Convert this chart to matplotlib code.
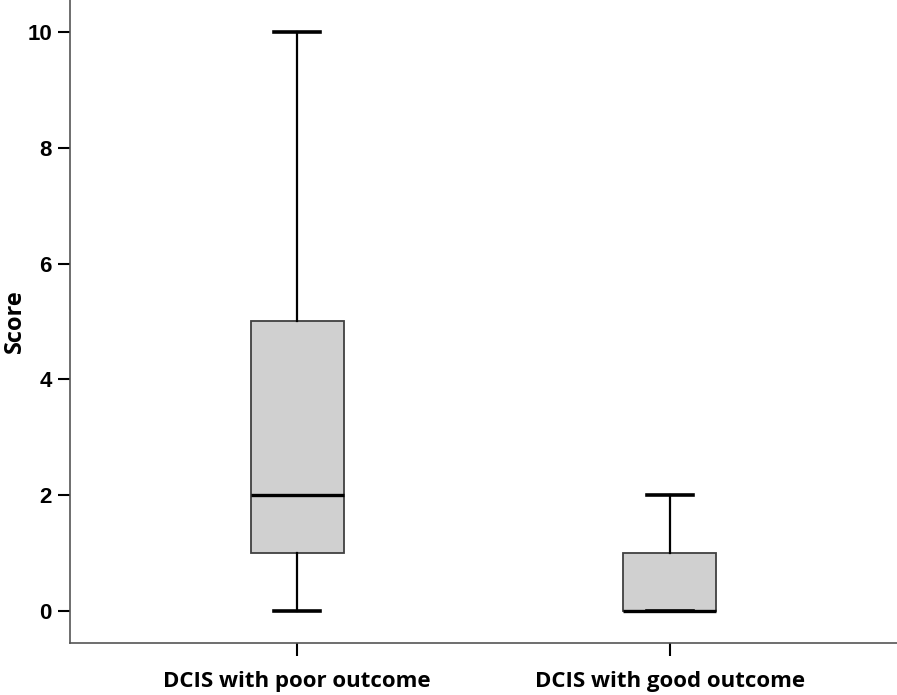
import matplotlib
matplotlib.use("Agg")
import matplotlib.pyplot as plt

# box statistics
groups = ["DCIS with poor outcome", "DCIS with good outcome"]
whisker_low = [0, 0]
q1 = [1, 0]
median = [2, 0]
q3 = [5, 1]
whisker_high = [10, 2]
yticks = [0, 2, 4, 6, 8, 10]

stats = []
for i in range(len(groups)):
    stats.append({"label": groups[i], "whislo": whisker_low[i], "q1": q1[i],
                  "med": median[i], "q3": q3[i], "whishi": whisker_high[i]})

fig = plt.figure(figsize=(8.97, 6.95), dpi=100)
ax = fig.add_axes([0.078, 0.075, 0.922, 0.925])

ax.bxp(stats, positions=[1, 2], widths=0.25, capwidths=0.124, showfliers=False,
       patch_artist=True,
       boxprops=dict(facecolor="#d0d0d0", edgecolor="#404040", linewidth=1.3),
       medianprops=dict(color="black", linewidth=2.4, zorder=5),
       whiskerprops=dict(color="black", linewidth=1.6),
       capprops=dict(color="black", linewidth=2.6))

ax.set_xlim(0.39, 2.61)
ax.set_ylim(-0.55, 10.55)
ax.set_yticks(yticks)
ax.set_yticklabels([str(v) for v in yticks], fontsize=16, fontweight="bold",
                   family="Liberation Sans")
ax.set_xticks([1, 2])
ax.set_xticklabels(groups, fontsize=16, fontweight="bold", family="Open Sans")
ax.set_ylabel("Score", fontsize=17, fontweight="bold", family="Open Sans")
ax.yaxis.set_label_coords(-0.052, 0.5)

for side in ["top", "right"]:
    ax.spines[side].set_visible(False)
for side in ["left", "bottom"]:
    ax.spines[side].set_color("#555555")
    ax.spines[side].set_linewidth(1.2)
ax.tick_params(axis="both", length=9, width=1.5, color="black")
ax.tick_params(axis="x", pad=11)
ax.tick_params(axis="y", pad=4)

fig.savefig("out.png", dpi=100)
